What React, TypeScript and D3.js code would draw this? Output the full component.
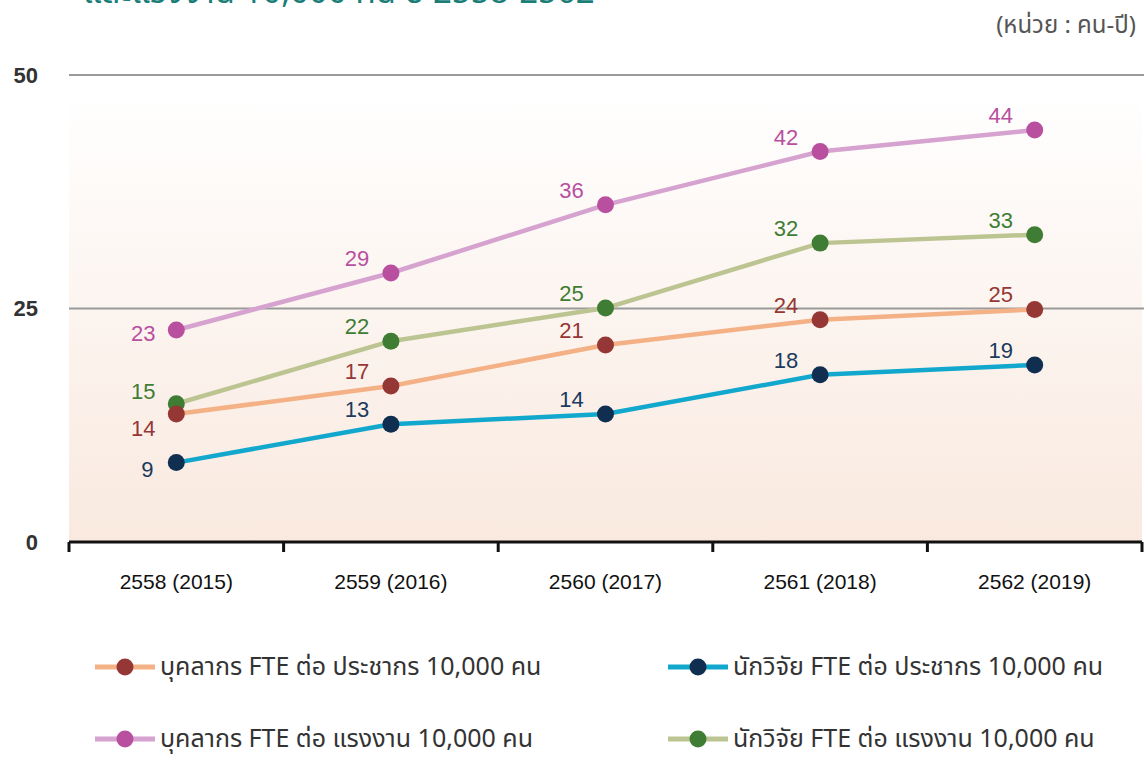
import React from "react";
import * as d3 from "d3";

const categories = ["2558 (2015)", "2559 (2016)", "2560 (2017)", "2561 (2018)", "2562 (2019)"];
const staffPerPop = [13.7, 16.7, 21.1, 23.8, 24.9];
const researcherPerPop = [8.5, 12.6, 13.7, 17.9, 18.95];
const staffPerLabor = [22.7, 28.8, 36.1, 41.8, 44.1];
const researcherPerLabor = [14.8, 21.5, 25.05, 32.0, 32.9];
const staffPerPopLabels = ["14", "17", "21", "24", "25"];
const researcherPerPopLabels = ["9", "13", "14", "18", "19"];
const staffPerLaborLabels = ["23", "29", "36", "42", "44"];
const researcherPerLaborLabels = ["15", "22", "25", "32", "33"];
const yTicks = [0, 25, 50];
const seriesNames = [
  "บุคลากร FTE ต่อ ประชากร 10,000 คน",
  "นักวิจัย FTE ต่อ ประชากร 10,000 คน",
  "บุคลากร FTE ต่อ แรงงาน 10,000 คน",
  "นักวิจัย FTE ต่อ แรงงาน 10,000 คน",
];
const titleText = "และแรงงาน 10,000 คน ปี 2558-2562";
const unitText = "(หน่วย : คน-ปี)";

const W = 1144;
const H = 758;
const left = 69;
const right = 1142;
const top = 75;
const bottom = 542;

const thaiFont = "'Noto Sans Thai', 'Leelawadee UI', Tahoma, 'Noto Sans', sans-serif";
const numFont = "Arial, 'Liberation Sans', sans-serif";

type Series = {
  name: string;
  values: number[];
  labels: string[];
  line: string;
  dot: string;
  text: string;
  firstDx: number;
  firstDy: number;
};

const series: Series[] = [
  { name: seriesNames[2], values: staffPerLabor, labels: staffPerLaborLabels, line: "#d6a2cf", dot: "#b8509f", text: "#b8509f", firstDx: -33, firstDy: 11 },
  { name: seriesNames[3], values: researcherPerLabor, labels: researcherPerLaborLabels, line: "#bcc592", dot: "#3f7d34", text: "#3f7d34", firstDx: -33, firstDy: -5 },
  { name: seriesNames[0], values: staffPerPop, labels: staffPerPopLabels, line: "#f3b185", dot: "#953735", text: "#953735", firstDx: -33, firstDy: 22 },
  { name: seriesNames[1], values: researcherPerPop, labels: researcherPerPopLabels, line: "#12a8cd", dot: "#0f2e50", text: "#1a3a5e", firstDx: -29, firstDy: 14 },
];

const legendItems = [
  { s: series[2], x: 95, y: 667 },
  { s: series[3], x: 668, y: 667 },
  { s: series[0], x: 95, y: 739 },
  { s: series[1], x: 668, y: 739 },
];

export default function App() {
  const x = d3.scaleBand<string>().domain(categories).range([left, right]);
  const y = d3.scaleLinear().domain([0, 50]).range([bottom, top]);
  const cx = (c: string) => (x(c) ?? 0) + x.bandwidth() / 2;
  const line = d3
    .line<number>()
    .x((_, i) => cx(categories[i]))
    .y((d) => y(d));
  const tickXs = categories.map((c) => x(c) ?? 0).concat([right]);

  return (
    <svg
      width={W}
      height={H}
      style={{ position: "absolute", left: 0, top: 0, background: "#fff" }}
    >
      <defs>
        <linearGradient id="bg" x1="0" y1="0" x2="0" y2="1">
          <stop offset="0" stopColor="#ffffff" />
          <stop offset="1" stopColor="#f9e9df" />
        </linearGradient>
      </defs>
      <text x={83} y={3} fontFamily={thaiFont} fontSize={33} fill="#1b7d78">
        {titleText}
      </text>
      <text x={1136} y={33} textAnchor="end" fontFamily={thaiFont} fontSize={24} fill="#555">
        {unitText}
      </text>
      <rect x={left} y={90} width={right - left} height={bottom - 90} fill="url(#bg)" />
      {yTicks.map((t) => (
        <g key={t}>
          {t > 0 && (
            <line x1={left} x2={W} y1={y(t)} y2={y(t)} stroke="#9a9a9a" strokeWidth={2} />
          )}
          <text
            x={38}
            y={y(t)}
            dy="0.36em"
            textAnchor="end"
            fontFamily={numFont}
            fontSize={22}
            fontWeight="bold"
            fill="#333"
          >
            {t}
          </text>
        </g>
      ))}
      <line x1={left} x2={right} y1={bottom} y2={bottom} stroke="#111" strokeWidth={3} />
      {tickXs.map((tx, i) => (
        <line key={i} x1={tx} x2={tx} y1={bottom} y2={bottom + 10} stroke="#111" strokeWidth={3} />
      ))}
      {categories.map((c) => (
        <text
          key={c}
          x={cx(c)}
          y={589}
          textAnchor="middle"
          fontFamily={numFont}
          fontSize={21}
          fill="#111"
        >
          {c}
        </text>
      ))}
      {series.map((s) => (
        <path key={s.name} d={line(s.values) ?? ""} fill="none" stroke={s.line} strokeWidth={4.5} />
      ))}
      {series.map((s) =>
        s.values.map((v, i) => (
          <circle key={s.name + i} cx={cx(categories[i])} cy={y(v)} r={8.5} fill={s.dot} />
        ))
      )}
      {series.map((s) =>
        s.values.map((v, i) => (
          <text
            key={s.name + "l" + i}
            x={cx(categories[i]) + (i === 0 ? s.firstDx : -34)}
            y={y(v) + (i === 0 ? s.firstDy : -7)}
            textAnchor="middle"
            fontFamily={numFont}
            fontSize={22}
            fill={s.text}
          >
            {s.labels[i]}
          </text>
        ))
      )}
      {legendItems.map(({ s, x: lx, y: ly }) => (
        <g key={s.name}>
          <line x1={lx} x2={lx + 60} y1={ly} y2={ly} stroke={s.line} strokeWidth={5} />
          <circle cx={lx + 30} cy={ly} r={8.5} fill={s.dot} />
          <text x={lx + 65} y={ly} dy="0.33em" fontFamily={thaiFont} fontSize={25} fill="#333">
            {s.name}
          </text>
        </g>
      ))}
    </svg>
  );
}
